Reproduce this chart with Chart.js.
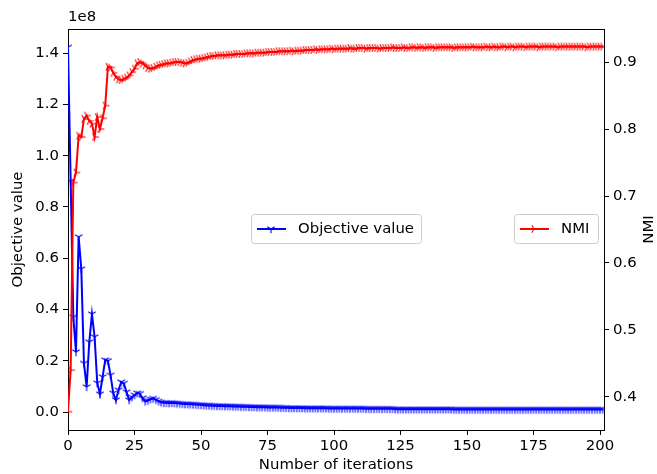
<!DOCTYPE html>
<html>
<head>
<meta charset="utf-8">
<script src="https://cdn.jsdelivr.net/npm/chart.js@4.4.1/dist/chart.umd.min.js"></script>
<style>
  body { margin: 0; background: #fff; }
  canvas { display: block; }
</style>
</head>
<body>
<canvas id="iterChart" width="657" height="474"></canvas>
<script>
// objective value per iteration, in units of 1e8
const objectiveValues = [
  1.423, 0.900, 0.370, 0.234, 0.683, 0.558, 0.190, 0.098, 0.273, 0.382,
  0.293, 0.113, 0.070, 0.137, 0.203, 0.200, 0.144, 0.074, 0.047, 0.086,
  0.117, 0.112, 0.078, 0.047, 0.058, 0.066, 0.074, 0.072, 0.055, 0.042,
  0.045, 0.050, 0.053, 0.048, 0.042, 0.038, 0.036, 0.036, 0.035, 0.036,
  0.035, 0.034, 0.033, 0.032, 0.031, 0.031, 0.030, 0.030, 0.029, 0.028,
  0.028, 0.027, 0.026, 0.026, 0.025, 0.025, 0.024, 0.024, 0.024, 0.023,
  0.023, 0.023, 0.022, 0.022, 0.022, 0.021, 0.021, 0.021, 0.020, 0.020,
  0.020, 0.019, 0.019, 0.019, 0.019, 0.018, 0.018, 0.018, 0.018, 0.018,
  0.017, 0.017, 0.017, 0.016, 0.016, 0.016, 0.016, 0.016, 0.016, 0.015,
  0.015, 0.015, 0.015, 0.015, 0.015, 0.015, 0.015, 0.015, 0.014, 0.014,
  0.014, 0.014, 0.014, 0.014, 0.014, 0.014, 0.014, 0.014, 0.014, 0.014,
  0.014, 0.014, 0.013, 0.013, 0.013, 0.013, 0.013, 0.013, 0.013, 0.013,
  0.013, 0.013, 0.013, 0.011, 0.011, 0.011, 0.011, 0.011, 0.011, 0.011,
  0.011, 0.011, 0.011, 0.011, 0.011, 0.011, 0.011, 0.011, 0.011, 0.011,
  0.011, 0.011, 0.011, 0.011, 0.011, 0.010, 0.010, 0.010, 0.010, 0.010,
  0.010, 0.010, 0.010, 0.010, 0.010, 0.010, 0.010, 0.010, 0.010, 0.010,
  0.010, 0.010, 0.010, 0.010, 0.010, 0.010, 0.010, 0.010, 0.010, 0.010,
  0.010, 0.010, 0.010, 0.010, 0.010, 0.010, 0.010, 0.010, 0.010, 0.010,
  0.010, 0.010, 0.010, 0.010, 0.010, 0.010, 0.010, 0.010, 0.010, 0.010,
  0.010, 0.010, 0.010, 0.010, 0.010, 0.010, 0.010, 0.010, 0.010, 0.010,
  0.010, 0.010
];

const nmiValues = [
  0.378, 0.440, 0.720, 0.735, 0.790, 0.788, 0.815, 0.820, 0.812, 0.808,
  0.788, 0.818, 0.800, 0.816, 0.835, 0.893, 0.892, 0.884, 0.878, 0.874,
  0.873, 0.875, 0.877, 0.880, 0.885, 0.890, 0.898, 0.900, 0.898, 0.895,
  0.891, 0.890, 0.891, 0.893, 0.895, 0.896, 0.897, 0.898, 0.898, 0.899,
  0.900, 0.900, 0.900, 0.899, 0.898, 0.899, 0.901, 0.903, 0.904, 0.905,
  0.905, 0.906, 0.907, 0.908, 0.909, 0.909, 0.910, 0.910, 0.910, 0.910,
  0.911, 0.911, 0.911, 0.912, 0.912, 0.912, 0.912, 0.913, 0.913, 0.913,
  0.913, 0.914, 0.914, 0.914, 0.914, 0.915, 0.915, 0.915, 0.915, 0.916,
  0.916, 0.916, 0.916, 0.916, 0.917, 0.916, 0.917, 0.917, 0.917, 0.918,
  0.918, 0.918, 0.918, 0.919, 0.918, 0.919, 0.919, 0.919, 0.919, 0.920,
  0.919, 0.920, 0.920, 0.920, 0.920, 0.920, 0.921, 0.920, 0.920, 0.921,
  0.921, 0.921, 0.920, 0.921, 0.921, 0.921, 0.921, 0.920, 0.921, 0.921,
  0.921, 0.921, 0.922, 0.921, 0.921, 0.921, 0.922, 0.921, 0.921, 0.922,
  0.922, 0.921, 0.922, 0.922, 0.921, 0.922, 0.922, 0.922, 0.921, 0.922,
  0.922, 0.922, 0.922, 0.922, 0.922, 0.921, 0.922, 0.922, 0.922, 0.922,
  0.922, 0.922, 0.923, 0.922, 0.922, 0.922, 0.922, 0.923, 0.922, 0.922,
  0.923, 0.922, 0.922, 0.923, 0.923, 0.922, 0.923, 0.923, 0.922, 0.923,
  0.923, 0.923, 0.922, 0.923, 0.923, 0.923, 0.923, 0.922, 0.923, 0.923,
  0.923, 0.923, 0.923, 0.923, 0.922, 0.923, 0.923, 0.923, 0.923, 0.923,
  0.923, 0.923, 0.923, 0.923, 0.923, 0.922, 0.923, 0.923, 0.923, 0.923,
  0.923, 0.923
];

// iteration number is just the index of each value
const iterations = objectiveValues.map((_, i) => i);

const iterTicks = [0, 25, 50, 75, 100, 125, 150, 175, 200];
const objTicks = [0.0, 0.2, 0.4, 0.6, 0.8, 1.0, 1.2, 1.4];
const nmiTicks = [0.4, 0.5, 0.6, 0.7, 0.8, 0.9];

const FONT = 'DejaVu Sans';
const FONT_SIZE = 14.9;
Chart.defaults.font.family = FONT;
Chart.defaults.font.size = FONT_SIZE;
Chart.defaults.color = '#000';

// small "tri" markers like matplotlib's '1' and '4'
function makeTri(color, arms) {
    const c = document.createElement('canvas');
    c.width = 12; c.height = 12;
    const g = c.getContext('2d');
    g.strokeStyle = color;
    g.lineWidth = 1.1;
    arms.forEach(a => {
        g.beginPath();
        g.moveTo(6, 6);
        g.lineTo(6 + a[0] * 4.3, 6 + a[1] * 4.3);
        g.stroke();
    });
    return c;
}
const triDown = makeTri('#0000ff', [[0, 1], [0.866, -0.5], [-0.866, -0.5]]);
const triRight = makeTri('#ff0000', [[1, 0], [-0.5, -0.866], [-0.5, 0.866]]);

function toPoints(values) {
    return values.map((v, i) => ({ x: iterations[i], y: v }));
}

function fixTicks(list) {
    return function (scale) {
        scale.ticks = list.map(v => ({ value: v }));
    };
}

// axis labels, top spine, offset text and the two legend boxes
const decorations = {
    id: 'decorations',
    afterDraw(chart) {
        const ctx = chart.ctx;
        const area = chart.chartArea;
        ctx.save();

        ctx.strokeStyle = '#000';
        ctx.lineWidth = 1;
        ctx.beginPath();
        ctx.moveTo(area.left, area.top + 0.5);
        ctx.lineTo(area.right, area.top + 0.5);
        ctx.stroke();

        ctx.fillStyle = '#000';
        ctx.font = FONT_SIZE + 'px "' + FONT + '"';
        ctx.textBaseline = 'middle';

        ctx.textAlign = 'left';
        ctx.fillText('1e8', area.left, 17);

        ctx.textAlign = 'center';
        ctx.fillText('Number of iterations', (area.left + area.right) / 2, 465);

        const midY = (area.top + area.bottom) / 2;
        ctx.save();
        ctx.translate(18, midY);
        ctx.rotate(-Math.PI / 2);
        ctx.fillText('Objective value', 0, 0);
        ctx.restore();

        ctx.save();
        ctx.translate(649, midY);
        ctx.rotate(-Math.PI / 2);
        ctx.fillText('NMI', 0, 0);
        ctx.restore();

        drawLegend(ctx, 251, 214, 170, 29, '#0000ff', triDown, 'Objective value');
        drawLegend(ctx, 514, 214, 84, 29, '#ff0000', triRight, 'NMI');

        ctx.restore();
    }
};

function drawLegend(ctx, x, y, w, h, color, marker, text) {
    ctx.save();
    ctx.beginPath();
    ctx.roundRect(x + 0.5, y + 0.5, w, h, 3);
    ctx.fillStyle = 'rgba(255,255,255,0.8)';
    ctx.fill();
    ctx.strokeStyle = '#cccccc';
    ctx.lineWidth = 1;
    ctx.stroke();

    const cy = y + h / 2 + 0.5;
    ctx.strokeStyle = color;
    ctx.lineWidth = 2;
    ctx.beginPath();
    ctx.moveTo(x + 6, cy);
    ctx.lineTo(x + 35, cy);
    ctx.stroke();
    ctx.drawImage(marker, x + 20 - 6, cy - 6);

    ctx.fillStyle = '#000';
    ctx.font = FONT_SIZE + 'px "' + FONT + '"';
    ctx.textAlign = 'left';
    ctx.textBaseline = 'middle';
    ctx.fillText(text, x + 47, cy);
    ctx.restore();
}

const ctx = document.getElementById('iterChart').getContext('2d');
new Chart(ctx, {
    type: 'line',
    data: {
        datasets: [{
            label: 'Objective value',
            data: toPoints(objectiveValues),
            yAxisID: 'yObj',
            borderColor: '#0000ff',
            borderWidth: 2,
            pointStyle: triDown,
            pointRadius: 4,
            tension: 0,
            fill: false,
            order: 1,
        }, {
            label: 'NMI',
            data: toPoints(nmiValues),
            yAxisID: 'yNmi',
            borderColor: '#ff0000',
            borderWidth: 2,
            pointStyle: triRight,
            pointRadius: 4,
            tension: 0,
            fill: false,
            order: 0,
        }],
    },
    options: {
        responsive: false,
        animation: false,
        devicePixelRatio: 1,
        layout: { padding: { top: 29, left: 0, right: 0, bottom: 0 } },
        plugins: {
            legend: { display: false },
            tooltip: { enabled: false },
        },
        scales: {
            x: {
                type: 'linear',
                min: 0,
                max: 201.5,
                afterBuildTicks: fixTicks(iterTicks),
                afterFit(scale) { scale.height = 44; },
                grid: { drawOnChartArea: false, drawTicks: true, tickLength: 5, color: '#000', tickWidth: 1 },
                border: { display: true, color: '#000', width: 1 },
                ticks: { padding: 2, maxRotation: 0, callback: v => String(v) },
            },
            yObj: {
                type: 'linear',
                position: 'left',
                min: -0.070,
                max: 1.494,
                afterBuildTicks: fixTicks(objTicks),
                afterFit(scale) { scale.width = 68; },
                grid: { drawOnChartArea: false, drawTicks: true, tickLength: 5, color: '#000', tickWidth: 1 },
                border: { display: true, color: '#000', width: 1 },
                ticks: { padding: 4, callback: v => v.toFixed(1) },
            },
            yNmi: {
                type: 'linear',
                position: 'right',
                min: 0.3507,
                max: 0.9493,
                afterBuildTicks: fixTicks(nmiTicks),
                afterFit(scale) { scale.width = 53; },
                grid: { drawOnChartArea: false, drawTicks: true, tickLength: 5, color: '#000', tickWidth: 1 },
                border: { display: true, color: '#000', width: 1 },
                ticks: { padding: 4, callback: v => v.toFixed(1) },
            },
        },
    },
    plugins: [decorations],
});
</script>
</body>
</html>
